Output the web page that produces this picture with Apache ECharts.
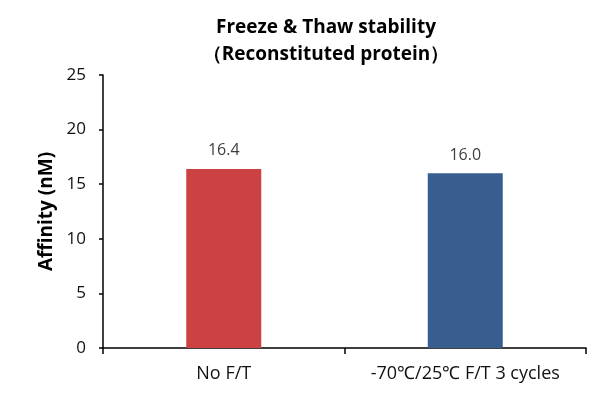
<!DOCTYPE html>
<html>
<head>
<meta charset="utf-8">
<script src="https://cdn.jsdelivr.net/npm/echarts@6/dist/echarts.min.js"></script>
<style>html,body{margin:0;padding:0;background:#fff;}#c{width:608px;height:403px;}</style>
</head>
<body>
<div id="c"></div>
<script>
const categories = ['No F/T', '-70℃/25℃ F/T 3 cycles'];
const values = [16.4, 16.0];
const barColors = ['#CC4142', '#375E8E'];
const yTicks = [0, 5, 10, 15, 20, 25];

const chart = echarts.init(document.getElementById('c'));
const FONT = '"Open Sans", "Liberation Sans", sans-serif';
chart.setOption({
  animation: false,
  title: {
    text: 'Freeze & Thaw stability\n（Reconstituted protein）',
    left: 321, textAlign: 'center', top: 9,
    textStyle: { fontFamily: FONT, fontSize: 19, fontWeight: 'bold', color: '#000', lineHeight: 27 }
  },
  grid: { left: 103, right: 22, top: 75, bottom: 55, containLabel: false },
  xAxis: {
    type: 'category',
    data: categories,
    axisLine: { lineStyle: { color: '#000', width: 1.5 } },
    axisTick: { show: true, length: 6, lineStyle: { color: '#000', width: 1.5 } },
    axisLabel: { color: '#111', fontFamily: FONT, fontSize: 18, margin: 17, interval: 0, hideOverlap: false }
  },
  yAxis: {
    type: 'value',
    min: yTicks[0], max: yTicks[yTicks.length - 1], interval: 5,
    name: 'Affinity (nM)',
    nameLocation: 'middle', nameGap: 45,
    nameTextStyle: { fontFamily: FONT, fontSize: 19, fontWeight: 'bold', color: '#000' },
    axisLine: { show: true, lineStyle: { color: '#000', width: 1.5 } },
    axisTick: { show: true, length: 4, lineStyle: { color: '#000', width: 1.5 } },
    splitLine: { show: false },
    axisLabel: { color: '#111', fontFamily: FONT, fontSize: 17, margin: 17 }
  },
  series: [{
    type: 'bar',
    barWidth: 75,
    data: values.map((v, i) => ({ value: v, itemStyle: { color: barColors[i] } })),
    label: {
      show: true, position: 'top', distance: 10,
      formatter: p => p.value.toFixed(1),
      fontFamily: FONT, fontSize: 16, color: '#404040'
    }
  }]
});
</script>
</body>
</html>
